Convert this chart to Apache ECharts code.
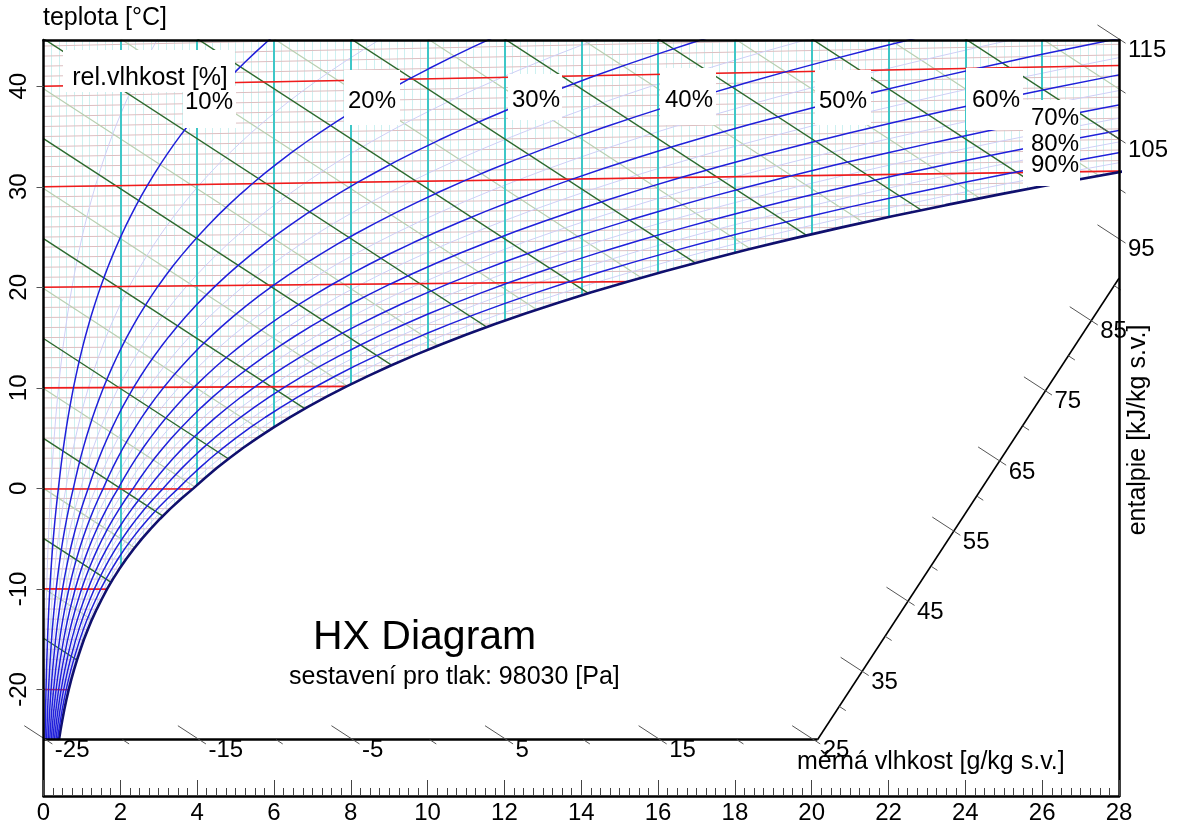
<!DOCTYPE html>
<html><head><meta charset="utf-8">
<script src="https://cdn.jsdelivr.net/npm/echarts@6/dist/echarts.min.js"></script>
<style>html,body{margin:0;padding:0;background:#fff}#c{width:1182px;height:825px}</style>
</head><body><div id="c"></div><script>
// ---------------- data ----------------
const pressurePa = 98030;
const temperatures = [-25,-24,-23,-22,-21,-20,-19,-18,-17,-16,-15,-14,-13,-12,-11,-10,-9,-8,-7,-6,-5,-4,-3,-2,-1,0,
  1,2,3,4,5,6,7,8,9,10,11,12,13,14,15,16,17,18,19,20,21,22,23,24,25,26,27,28,29,30,
  31,32,33,34,35,36,37,38,39,40,41,42,43,44,45];
// saturation vapour pressure [Pa] (over ice below 0 °C, over water above)
const satPressure = [63.5,70.0,77.3,85.1,93.8,103.3,113.7,125.2,137.7,151.4,165.5,181.5,198.7,217.6,238.3,259.9,
  283.8,309.9,338.1,368.7,401.7,437.5,476.2,517.8,562.7,611.2,
  657.1,705.9,757.6,813.0,872.3,935.3,1002.0,1072.9,1148.1,1228.1,1312.9,1402.7,1497.9,1598.8,1705.6,
  1818.5,1938.0,2064.4,2197.8,2338.8,2487.7,2644.7,2810.4,2985.0,3169.0,3362.9,3567.0,3781.8,4007.8,4245.5,
  4495.3,4757.8,5033.5,5322.9,5626.7,5945.4,6279.5,6629.8,6996.9,7381.4,7784.0,8205.4,8646.4,9107.6,9589.8];
const rhMain = [10,20,30,40,50,60,70,80,90];
const rhMinor = [5,15,25,35,45,55,65,75,85,95];
const rhLabels = ['10%','20%','30%','40%','50%','60%','70%','80%','90%'];
const isoMain = [-20,-10,0,10,20,30,40];
const isoMinorStep = 1;          // °C
const humidityMain = [2,4,6,8,10,12,14,16,18,20,22,24,26];
const humidityMinorStep = 0.2;   // g/kg
const enthalpyMain = [-15,-5,5,15,25,35,45,55,65,75,85,95,105,115];
const enthalpyMinor = [-20,-10,0,10,20,30,40,50,60,70,80,90,100,110];
const enthalpyTickLabels = [-25,-15,-5,5,15,25,35,45,55,65,75,85,95,105,115];
const enthalpySmallTicks = [-20,-10,0,10,20,30,40,50,60,70,80,90,100,110];
const yTickValues = [-20,-10,0,10,20,30,40];

// ---------------- geometry helpers ----------------
const X_MIN = 0, X_MAX = 28, Y_MIN = -30.6, Y_MAX = 44.6, T_BOTTOM = -25;
const SKEW = 1.86 / 1006;
const yOf = (x, t) => t * (1 + SKEW * x);
const yOfH = (h, x) => (h - 2.501 * x) / 1.006;
const hum = (phi, ps) => 622 * phi * ps / (pressurePa - phi * ps);
const rhCurve = phi => temperatures.map((t, i) => { const x = hum(phi / 100, satPressure[i]); return [x, yOf(x, t)]; });

// broken enthalpy scale line
const cornerA = [20.15, T_BOTTOM], cornerB = [28, 20.9];
const hA = 1.006 * cornerA[1] + 2.501 * cornerA[0];
const hB = 1.006 * cornerB[1] + 2.501 * cornerB[0];
function crossing(h) {
  const xb = (h - 1.006 * T_BOTTOM) / 2.501;
  if (xb <= cornerA[0]) return [xb, T_BOTTOM];
  const s = (h - hA) / (hB - hA);
  if (s <= 1) return [cornerA[0] + s * (cornerB[0] - cornerA[0]), cornerA[1] + s * (cornerB[1] - cornerA[1])];
  return [28, yOfH(h, 28)];
}
const seg = (h, x1, x2) => [[x1, yOfH(h, x1)], [x2, yOfH(h, x2)]];

// ---------------- grid lines ----------------
const isoMinorLines = [];
for (let t = T_BOTTOM; t <= 44; t += isoMinorStep) isoMinorLines.push([[0, t], [28, yOf(28, t)]]);
const isoMainLines = isoMain.map(t => [[0, t], [28, yOf(28, t)]]);
const humMinorLines = [];
for (let k = 1; k < 140; k++) { const x = +(k * humidityMinorStep).toFixed(2); humMinorLines.push([[x, T_BOTTOM], [x, Y_MAX]]); }
const humMainLines = humidityMain.map(x => [[x, T_BOTTOM], [x, Y_MAX]]);
const hMainLines = enthalpyMain.map(h => [[0, yOfH(h, 0)], [28, yOfH(h, 28)]]);
const hMinorLines = enthalpyMinor.map(h => [[0, yOfH(h, 0)], [28, yOfH(h, 28)]]);
const bigTicks = enthalpyTickLabels.map(h => { const c = crossing(h); return seg(h, c[0] - 0.56, c[0] + 0.17); });
const smallTicks = enthalpySmallTicks.map(h => { const c = crossing(h); return seg(h, c[0], c[0] + 0.17); });
const scaleLine = [[[0, T_BOTTOM], cornerA], [cornerA, cornerB]];

const FONT = '"Liberation Sans", Arial, Helvetica, sans-serif';
const linesSeries = (coords, color, width, z, clip = true) => ({
  type: 'lines', coordinateSystem: 'cartesian2d', xAxisIndex: 0, yAxisIndex: 0, clip, silent: true, z,
  lineStyle: { color, width, opacity: 1, curveness: 0 }, data: coords.map(c => ({ coords: c }))
});
const rhSeries = (phi, color, width, z) => ({
  type: 'line', data: rhCurve(phi), symbol: 'none', showSymbol: false, silent: true, clip: true, z,
  lineStyle: { color, width }, animation: false
});

const series = [
  linesSeries(humMinorLines, '#cdf1f1', 1, 1),
  linesSeries(isoMinorLines, '#dcbfc1', 1, 1),
  linesSeries(hMinorLines, '#b9cfb0', 1.2, 1),
  ...rhMinor.map(p => rhSeries(p, '#cfcff6', 1, 1)),
  linesSeries(humMainLines, '#3ec7c7', 2, 2),
  linesSeries(hMainLines, '#2e6a2e', 1.4, 2),
  linesSeries(isoMainLines, '#ef1c1c', 1.6, 2),
  Object.assign(rhSeries(100, '#10106e', 2.6, 3), { areaStyle: { color: '#ffffff', opacity: 1, origin: 'start' } }),
  ...rhMain.map(p => rhSeries(p, '#2020da', 1.5, 4)),
  linesSeries(scaleLine.slice(0, 1), '#000', 2.5, 6, false),
  linesSeries(scaleLine.slice(1), '#000', 1.6, 6, false),
  linesSeries(bigTicks, '#555', 1, 6, false),
  linesSeries(smallTicks, '#555', 1, 6, false),
  {
    type: 'scatter', z: 7, silent: true, clip: false, symbolSize: 0, itemStyle: { color: '#000', opacity: 1 },
    data: enthalpyTickLabels.map(h => { const c = crossing(h); return [c[0], c[1], h]; }),
    label: { show: true, position: [9, 11], align: 'left', verticalAlign: 'middle', opacity: 1,
      textBorderWidth: 0, formatter: p => String(p.value[2]), color: '#000', fontSize: 24, fontFamily: FONT }
  }
];

const txt = (text, x, y, extra) => ({ type: 'text', x, y, z: 100, silent: true,
  style: Object.assign({ text, font: '24px ' + FONT, fill: '#000', align: 'center', verticalAlign: 'middle' }, extra || {}) });
const box = (x, y, w, h) => ({ type: 'rect', z: 99, silent: true, shape: { x, y, width: w, height: h }, style: { fill: '#fff' } });
const rhPos = [[209, 102], [372, 101], [536, 100], [689, 100], [843, 101], [996, 100], [1055, 118], [1055, 144], [1055, 165]];
const graphic = [
  box(63, 50, 172, 42), box(183, 86, 53, 42), box(344, 70, 56, 55), box(508, 74, 54, 46), box(660, 68, 56, 57),
  box(815, 70, 56, 55), box(966, 68, 57, 62), box(1023, 100, 57, 86),
  ...rhLabels.map((s, i) => txt(s, rhPos[i][0], rhPos[i][1])),
  txt('rel.vlhkost [%]', 150, 78, { font: '25px ' + FONT }),
  txt('teplota [°C]', 43, 18, { align: 'left', font: '25px ' + FONT }),
  txt('měrná vlhkost [g/kg s.v.]', 797, 762, { align: 'left', font: '25px ' + FONT }),
  { type: 'text', x: 1138, y: 430, rotation: Math.PI / 2, z: 100, silent: true,
    style: { text: 'entalpie [kJ/kg s.v.]', font: '25px ' + FONT, fill: '#000', align: 'center', verticalAlign: 'middle' } },
  txt('HX Diagram', 313, 638, { align: 'left', font: '41px ' + FONT }),
  txt('sestavení pro tlak: ' + pressurePa + ' [Pa]', 289, 677, { align: 'left', font: '25px ' + FONT })
];

const chart = echarts.init(document.getElementById('c'), null, { renderer: 'canvas' });
chart.setOption({
  animation: false,
  backgroundColor: '#fff',
  grid: { left: 43.5, right: 63, top: 40, bottom: 28, containLabel: false },
  xAxis: [
    { type: 'value', min: X_MIN, max: X_MAX, interval: 2, position: 'bottom', z: 10,
      axisLine: { show: true, onZero: false, lineStyle: { color: '#000', width: 2.5 } },
      axisTick: { show: true, inside: true, length: 16, lineStyle: { color: '#444', width: 1 } },
      minorTick: { show: true, splitNumber: 8, length: 8, lineStyle: { color: '#444', width: 1 } },
      axisLabel: { color: '#000', fontSize: 24, fontFamily: FONT, margin: 5, showMinLabel: true, showMaxLabel: true },
      splitLine: { show: false }, minorSplitLine: { show: false } },
    { type: 'value', min: X_MIN, max: X_MAX, position: 'top', z: 10,
      axisLine: { show: true, onZero: false, lineStyle: { color: '#000', width: 2.5 } },
      axisTick: { show: false }, axisLabel: { show: false }, splitLine: { show: false } }
  ],
  yAxis: [
    { type: 'value', min: Y_MIN, max: Y_MAX, position: 'left', z: 10,
      axisLine: { show: true, onZero: false, lineStyle: { color: '#000', width: 2.5 } },
      axisTick: { show: true, length: 7, customValues: yTickValues, lineStyle: { color: '#555' } },
      axisLabel: { customValues: yTickValues, rotate: 90, color: '#000', fontSize: 24, fontFamily: FONT, margin: 12 },
      splitLine: { show: false } },
    { type: 'value', min: Y_MIN, max: Y_MAX, position: 'right', z: 10,
      axisLine: { show: true, onZero: false, lineStyle: { color: '#000', width: 2.5 } },
      axisTick: { show: false }, axisLabel: { show: false }, splitLine: { show: false } }
  ],
  series,
  graphic
});
</script></body></html>
